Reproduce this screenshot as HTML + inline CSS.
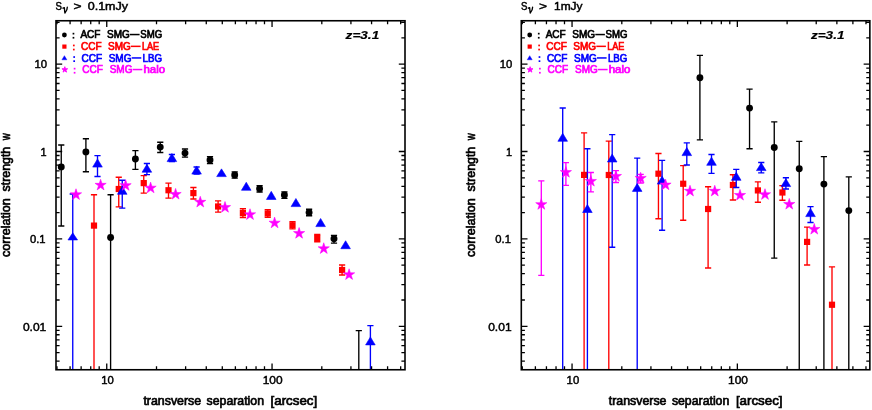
<!DOCTYPE html>
<html><head><meta charset="utf-8"><title>plot</title><style>html,body{margin:0;padding:0;background:#fff}svg{display:block;will-change:transform}</style></head><body>
<svg width="872" height="410" viewBox="0 0 872 410" font-family="'Liberation Sans', sans-serif">
<rect width="872" height="410" fill="#fff"/>
<path d="M61.25 145.00V226.00M58.15 145.00h6.2M58.15 226.00h6.2" stroke="#000" stroke-width="1.35" fill="none"/>
<circle cx="61.25" cy="166.90" r="3.45" fill="#000"/>
<path d="M85.90 138.75V171.70M82.80 138.75h6.2M82.80 171.70h6.2" stroke="#000" stroke-width="1.35" fill="none"/>
<circle cx="85.90" cy="151.90" r="3.45" fill="#000"/>
<path d="M110.60 194.75V369.75M107.50 194.75h6.2" stroke="#000" stroke-width="1.35" fill="none"/>
<circle cx="110.60" cy="237.50" r="3.45" fill="#000"/>
<path d="M135.40 150.60V169.40M132.30 150.60h6.2M132.30 169.40h6.2" stroke="#000" stroke-width="1.35" fill="none"/>
<circle cx="135.40" cy="159.00" r="3.45" fill="#000"/>
<path d="M160.25 142.25V152.50M157.15 142.25h6.2M157.15 152.50h6.2" stroke="#000" stroke-width="1.35" fill="none"/>
<circle cx="160.25" cy="147.10" r="3.45" fill="#000"/>
<path d="M185.00 149.00V157.10M181.90 149.00h6.2M181.90 157.10h6.2" stroke="#000" stroke-width="1.35" fill="none"/>
<circle cx="185.00" cy="153.10" r="3.45" fill="#000"/>
<path d="M210.00 156.60V163.50M206.90 156.60h6.2M206.90 163.50h6.2" stroke="#000" stroke-width="1.35" fill="none"/>
<circle cx="210.00" cy="160.00" r="3.45" fill="#000"/>
<path d="M234.70 171.90V178.10M231.60 171.90h6.2M231.60 178.10h6.2" stroke="#000" stroke-width="1.35" fill="none"/>
<circle cx="234.70" cy="175.00" r="3.45" fill="#000"/>
<path d="M259.60 185.60V192.00M256.50 185.60h6.2M256.50 192.00h6.2" stroke="#000" stroke-width="1.35" fill="none"/>
<circle cx="259.60" cy="188.75" r="3.45" fill="#000"/>
<path d="M284.40 191.80V198.30M281.30 191.80h6.2M281.30 198.30h6.2" stroke="#000" stroke-width="1.35" fill="none"/>
<circle cx="284.40" cy="195.00" r="3.45" fill="#000"/>
<path d="M309.10 209.20V215.70M306.00 209.20h6.2M306.00 215.70h6.2" stroke="#000" stroke-width="1.35" fill="none"/>
<circle cx="309.10" cy="212.40" r="3.45" fill="#000"/>
<path d="M334.00 235.40V243.10M330.90 235.40h6.2M330.90 243.10h6.2" stroke="#000" stroke-width="1.35" fill="none"/>
<circle cx="334.00" cy="238.75" r="3.45" fill="#000"/>
<path d="M358.80 330.60V369.75M355.70 330.60h6.2" stroke="#000" stroke-width="1.35" fill="none"/>
<path d="M94.00 194.75V369.75M90.90 194.75h6.2" stroke="#f00" stroke-width="1.35" fill="none"/>
<rect x="90.90" y="222.50" width="6.2" height="6.2" fill="#f00"/>
<path d="M118.75 177.25V206.90M115.65 177.25h6.2M115.65 206.90h6.2" stroke="#f00" stroke-width="1.35" fill="none"/>
<rect x="115.65" y="185.90" width="6.2" height="6.2" fill="#f00"/>
<path d="M143.75 175.60V193.10M140.65 175.60h6.2M140.65 193.10h6.2" stroke="#f00" stroke-width="1.35" fill="none"/>
<rect x="140.65" y="180.00" width="6.2" height="6.2" fill="#f00"/>
<path d="M168.50 183.10V198.10M165.40 183.10h6.2M165.40 198.10h6.2" stroke="#f00" stroke-width="1.35" fill="none"/>
<rect x="165.40" y="187.15" width="6.2" height="6.2" fill="#f00"/>
<path d="M193.40 187.50V199.00M190.30 187.50h6.2M190.30 199.00h6.2" stroke="#f00" stroke-width="1.35" fill="none"/>
<rect x="190.30" y="190.00" width="6.2" height="6.2" fill="#f00"/>
<path d="M218.10 200.90V212.10M215.00 200.90h6.2M215.00 212.10h6.2" stroke="#f00" stroke-width="1.35" fill="none"/>
<rect x="215.00" y="203.40" width="6.2" height="6.2" fill="#f00"/>
<path d="M242.90 208.75V217.50M239.80 208.75h6.2M239.80 217.50h6.2" stroke="#f00" stroke-width="1.35" fill="none"/>
<rect x="239.80" y="210.00" width="6.2" height="6.2" fill="#f00"/>
<path d="M267.75 209.60V217.20M264.65 209.60h6.2M264.65 217.20h6.2" stroke="#f00" stroke-width="1.35" fill="none"/>
<rect x="264.65" y="210.30" width="6.2" height="6.2" fill="#f00"/>
<path d="M292.50 221.60V228.90M289.40 221.60h6.2M289.40 228.90h6.2" stroke="#f00" stroke-width="1.35" fill="none"/>
<rect x="289.40" y="222.15" width="6.2" height="6.2" fill="#f00"/>
<path d="M317.25 234.50V241.70M314.15 234.50h6.2M314.15 241.70h6.2" stroke="#f00" stroke-width="1.35" fill="none"/>
<rect x="314.15" y="235.00" width="6.2" height="6.2" fill="#f00"/>
<path d="M342.10 265.00V275.00M339.00 265.00h6.2M339.00 275.00h6.2" stroke="#f00" stroke-width="1.35" fill="none"/>
<rect x="339.00" y="266.90" width="6.2" height="6.2" fill="#f00"/>
<path d="M72.75 194.00V369.75M69.65 194.00h6.2" stroke="#00f" stroke-width="1.35" fill="none"/>
<path d="M72.75 232.86L77.55 239.95H67.95Z" fill="#00f" stroke="#00f" stroke-width="0.6" stroke-linejoin="round"/>
<path d="M97.50 155.60V176.50M94.40 155.60h6.2M94.40 176.50h6.2" stroke="#00f" stroke-width="1.35" fill="none"/>
<path d="M97.50 158.96L102.30 167.10H92.70Z" fill="#00f" stroke="#00f" stroke-width="0.6" stroke-linejoin="round"/>
<path d="M122.25 180.25V208.10M119.15 180.25h6.2M119.15 208.10h6.2" stroke="#00f" stroke-width="1.35" fill="none"/>
<path d="M122.25 186.36L127.05 194.30H117.45Z" fill="#00f" stroke="#00f" stroke-width="0.6" stroke-linejoin="round"/>
<path d="M146.90 163.50V174.60M143.80 163.50h6.2M143.80 174.60h6.2" stroke="#00f" stroke-width="1.35" fill="none"/>
<path d="M146.90 164.36L151.70 172.20H142.10Z" fill="#00f" stroke="#00f" stroke-width="0.6" stroke-linejoin="round"/>
<path d="M171.90 154.50V161.60M168.80 154.50h6.2M168.80 161.60h6.2" stroke="#00f" stroke-width="1.35" fill="none"/>
<path d="M171.90 153.46L176.70 161.60H167.10Z" fill="#00f" stroke="#00f" stroke-width="0.6" stroke-linejoin="round"/>
<path d="M196.60 167.00V174.00M193.50 167.00h6.2M193.50 174.00h6.2" stroke="#00f" stroke-width="1.35" fill="none"/>
<path d="M196.60 165.96L201.40 174.10H191.80Z" fill="#00f" stroke="#00f" stroke-width="0.6" stroke-linejoin="round"/>
<path d="M221.50 168.86L226.30 176.60H216.70Z" fill="#00f" stroke="#00f" stroke-width="0.6" stroke-linejoin="round"/>
<path d="M246.25 182.26L251.05 190.30H241.45Z" fill="#00f" stroke="#00f" stroke-width="0.6" stroke-linejoin="round"/>
<path d="M271.25 191.36L276.05 199.45H266.45Z" fill="#00f" stroke="#00f" stroke-width="0.6" stroke-linejoin="round"/>
<path d="M295.90 198.46L300.70 206.60H291.10Z" fill="#00f" stroke="#00f" stroke-width="0.6" stroke-linejoin="round"/>
<path d="M320.60 218.46L325.40 226.60H315.80Z" fill="#00f" stroke="#00f" stroke-width="0.6" stroke-linejoin="round"/>
<path d="M345.60 240.76L350.40 248.70H340.80Z" fill="#00f" stroke="#00f" stroke-width="0.6" stroke-linejoin="round"/>
<path d="M370.40 325.60V369.75M367.30 325.60h6.2" stroke="#00f" stroke-width="1.35" fill="none"/>
<path d="M370.40 336.96L375.20 344.90H365.60Z" fill="#00f" stroke="#00f" stroke-width="0.6" stroke-linejoin="round"/>
<polygon points="76.00,188.75 77.32,192.83 81.61,192.83 78.14,195.35 79.47,199.42 76.00,196.90 72.53,199.42 73.86,195.35 70.39,192.83 74.68,192.83" fill="#f0f" stroke="#f0f" stroke-width="0.55" stroke-linejoin="miter"/>
<polygon points="100.60,179.25 101.92,183.33 106.21,183.33 102.74,185.85 104.07,189.92 100.60,187.40 97.13,189.92 98.46,185.85 94.99,183.33 99.28,183.33" fill="#f0f" stroke="#f0f" stroke-width="0.55" stroke-linejoin="miter"/>
<polygon points="125.60,179.60 126.92,183.68 131.21,183.68 127.74,186.20 129.07,190.27 125.60,187.75 122.13,190.27 123.46,186.20 119.99,183.68 124.28,183.68" fill="#f0f" stroke="#f0f" stroke-width="0.55" stroke-linejoin="miter"/>
<polygon points="150.60,182.10 151.92,186.18 156.21,186.18 152.74,188.70 154.07,192.77 150.60,190.25 147.13,192.77 148.46,188.70 144.99,186.18 149.28,186.18" fill="#f0f" stroke="#f0f" stroke-width="0.55" stroke-linejoin="miter"/>
<polygon points="175.60,188.40 176.92,192.48 181.21,192.48 177.74,195.00 179.07,199.07 175.60,196.55 172.13,199.07 173.46,195.00 169.99,192.48 174.28,192.48" fill="#f0f" stroke="#f0f" stroke-width="0.55" stroke-linejoin="miter"/>
<polygon points="200.25,196.25 201.57,200.33 205.86,200.33 202.39,202.85 203.72,206.92 200.25,204.40 196.78,206.92 198.11,202.85 194.64,200.33 198.93,200.33" fill="#f0f" stroke="#f0f" stroke-width="0.55" stroke-linejoin="miter"/>
<polygon points="225.00,201.50 226.32,205.58 230.61,205.58 227.14,208.10 228.47,212.17 225.00,209.65 221.53,212.17 222.86,208.10 219.39,205.58 223.68,205.58" fill="#f0f" stroke="#f0f" stroke-width="0.55" stroke-linejoin="miter"/>
<polygon points="250.00,208.75 251.32,212.83 255.61,212.83 252.14,215.35 253.47,219.42 250.00,216.90 246.53,219.42 247.86,215.35 244.39,212.83 248.68,212.83" fill="#f0f" stroke="#f0f" stroke-width="0.55" stroke-linejoin="miter"/>
<polygon points="274.60,217.10 275.92,221.18 280.21,221.18 276.74,223.70 278.07,227.77 274.60,225.25 271.13,227.77 272.46,223.70 268.99,221.18 273.28,221.18" fill="#f0f" stroke="#f0f" stroke-width="0.55" stroke-linejoin="miter"/>
<polygon points="299.10,227.50 300.42,231.58 304.71,231.58 301.24,234.10 302.57,238.17 299.10,235.65 295.63,238.17 296.96,234.10 293.49,231.58 297.78,231.58" fill="#f0f" stroke="#f0f" stroke-width="0.55" stroke-linejoin="miter"/>
<polygon points="323.75,242.75 325.07,246.83 329.36,246.83 325.89,249.35 327.22,253.42 323.75,250.90 320.28,253.42 321.61,249.35 318.14,246.83 322.43,246.83" fill="#f0f" stroke="#f0f" stroke-width="0.55" stroke-linejoin="miter"/>
<polygon points="349.10,268.75 350.42,272.83 354.71,272.83 351.24,275.35 352.57,279.42 349.10,276.90 345.63,279.42 346.96,275.35 343.49,272.83 347.78,272.83" fill="#f0f" stroke="#f0f" stroke-width="0.55" stroke-linejoin="miter"/>
<rect x="56.00" y="20.75" width="349.00" height="349.00" fill="none" stroke="#000" stroke-width="1.6"/>
<path d="M56.99 369.75v-3.6M56.99 20.75v3.6M70.08 369.75v-3.6M70.08 20.75v3.6M81.14 369.75v-3.6M81.14 20.75v3.6M90.73 369.75v-3.6M90.73 20.75v3.6M99.19 369.75v-3.6M99.19 20.75v3.6M106.75 369.75v-6.2M106.75 20.75v6.2M156.51 369.75v-3.6M156.51 20.75v3.6M185.62 369.75v-3.6M185.62 20.75v3.6M206.27 369.75v-3.6M206.27 20.75v3.6M222.29 369.75v-3.6M222.29 20.75v3.6M235.38 369.75v-3.6M235.38 20.75v3.6M246.44 369.75v-3.6M246.44 20.75v3.6M256.03 369.75v-3.6M256.03 20.75v3.6M264.49 369.75v-3.6M264.49 20.75v3.6M272.05 369.75v-6.2M272.05 20.75v6.2M321.81 369.75v-3.6M321.81 20.75v3.6M350.92 369.75v-3.6M350.92 20.75v3.6M371.57 369.75v-3.6M371.57 20.75v3.6M387.59 369.75v-3.6M387.59 20.75v3.6M400.68 369.75v-3.6M400.68 20.75v3.6M56.00 361.08h3.6M405.00 361.08h-3.6M56.00 352.61h3.6M405.00 352.61h-3.6M56.00 345.69h3.6M405.00 345.69h-3.6M56.00 339.84h3.6M405.00 339.84h-3.6M56.00 334.77h3.6M405.00 334.77h-3.6M56.00 330.30h3.6M405.00 330.30h-3.6M56.00 326.30h6.2M405.00 326.30h-6.2M56.00 299.99h3.6M405.00 299.99h-3.6M56.00 284.60h3.6M405.00 284.60h-3.6M56.00 273.68h3.6M405.00 273.68h-3.6M56.00 265.21h3.6M405.00 265.21h-3.6M56.00 258.29h3.6M405.00 258.29h-3.6M56.00 252.44h3.6M405.00 252.44h-3.6M56.00 247.37h3.6M405.00 247.37h-3.6M56.00 242.90h3.6M405.00 242.90h-3.6M56.00 238.90h6.2M405.00 238.90h-6.2M56.00 212.59h3.6M405.00 212.59h-3.6M56.00 197.20h3.6M405.00 197.20h-3.6M56.00 186.28h3.6M405.00 186.28h-3.6M56.00 177.81h3.6M405.00 177.81h-3.6M56.00 170.89h3.6M405.00 170.89h-3.6M56.00 165.04h3.6M405.00 165.04h-3.6M56.00 159.97h3.6M405.00 159.97h-3.6M56.00 155.50h3.6M405.00 155.50h-3.6M56.00 151.50h6.2M405.00 151.50h-6.2M56.00 125.19h3.6M405.00 125.19h-3.6M56.00 109.80h3.6M405.00 109.80h-3.6M56.00 98.88h3.6M405.00 98.88h-3.6M56.00 90.41h3.6M405.00 90.41h-3.6M56.00 83.49h3.6M405.00 83.49h-3.6M56.00 77.64h3.6M405.00 77.64h-3.6M56.00 72.57h3.6M405.00 72.57h-3.6M56.00 68.10h3.6M405.00 68.10h-3.6M56.00 64.10h6.2M405.00 64.10h-6.2M56.00 37.79h3.6M405.00 37.79h-3.6M56.00 22.40h3.6M405.00 22.40h-3.6" stroke="#000" stroke-width="1.3" fill="none"/>
<g transform="translate(9.70,257.0) rotate(-90)">
<text x="0.00" y="0.00" font-size="12" fill="#000" stroke="#000" stroke-width="0.65" text-anchor="start" textLength="58.80" lengthAdjust="spacingAndGlyphs" >correlation</text>
<text x="65.60" y="0.00" font-size="12" fill="#000" stroke="#000" stroke-width="0.65" text-anchor="start" textLength="44.60" lengthAdjust="spacingAndGlyphs" >strength</text>
<text x="116.80" y="0.00" font-size="12" fill="#000" stroke="#000" stroke-width="0.65" text-anchor="start" textLength="6.90" lengthAdjust="spacingAndGlyphs" >w</text>
</g>
<text x="55.60" y="9.60" font-size="11.6" fill="#000" stroke="#000" stroke-width="0.5" text-anchor="start" textLength="6.40" lengthAdjust="spacingAndGlyphs" >S</text>
<path d="M63.00 8.2L64.30 7.6L64.90 13.0Q67.40 10.2 67.30 7.2" fill="none" stroke="#000" stroke-width="1.35" stroke-linejoin="round" stroke-linecap="round"/>
<text x="73.60" y="9.60" font-size="11.6" fill="#000" stroke="#000" stroke-width="0.5" text-anchor="start" textLength="8.00" lengthAdjust="spacingAndGlyphs" >&gt;</text>
<text x="34.50" y="68.40" font-size="11" fill="#000" stroke="#000" stroke-width="0.45" text-anchor="start" textLength="12.60" lengthAdjust="spacingAndGlyphs" >10</text>
<text x="40.60" y="155.80" font-size="11" fill="#000" stroke="#000" stroke-width="0.45" text-anchor="start" textLength="6.10" lengthAdjust="spacingAndGlyphs" >1</text>
<text x="30.00" y="243.20" font-size="11" fill="#000" stroke="#000" stroke-width="0.45" text-anchor="start" textLength="15.60" lengthAdjust="spacingAndGlyphs" >0.1</text>
<text x="22.90" y="330.60" font-size="11" fill="#000" stroke="#000" stroke-width="0.45" text-anchor="start" textLength="23.40" lengthAdjust="spacingAndGlyphs" >0.01</text>
<text x="101.30" y="384.40" font-size="11" fill="#000" stroke="#000" stroke-width="0.45" text-anchor="start" textLength="12.60" lengthAdjust="spacingAndGlyphs" >10</text>
<text x="262.70" y="384.40" font-size="11" fill="#000" stroke="#000" stroke-width="0.45" text-anchor="start" textLength="19.90" lengthAdjust="spacingAndGlyphs" >100</text>
<text x="143.40" y="405.20" font-size="12" fill="#000" stroke="#000" stroke-width="0.65" text-anchor="start" textLength="57.80" lengthAdjust="spacingAndGlyphs" >transverse</text>
<text x="206.60" y="405.20" font-size="12" fill="#000" stroke="#000" stroke-width="0.65" text-anchor="start" textLength="57.40" lengthAdjust="spacingAndGlyphs" >separation</text>
<text x="270.60" y="405.20" font-size="12" fill="#000" stroke="#000" stroke-width="0.65" text-anchor="start" textLength="46.60" lengthAdjust="spacingAndGlyphs" >[arcsec]</text>
<text x="345.60" y="38.80" font-size="11.6" fill="#000" stroke="#000" stroke-width="0.2" text-anchor="start" textLength="33.60" lengthAdjust="spacingAndGlyphs" font-weight="bold" font-style="italic">z=3.1</text>
<text x="80.40" y="38.40" font-size="10" fill="#000" stroke="#000" stroke-width="0.68" text-anchor="start" >ACF</text>
<text x="107.00" y="38.40" font-size="10" fill="#000" stroke="#000" stroke-width="0.68" text-anchor="start" >SMG</text>
<text x="140.30" y="38.40" font-size="10" fill="#000" stroke="#000" stroke-width="0.68" text-anchor="start" textLength="21.90" lengthAdjust="spacingAndGlyphs" >SMG</text>
<rect x="130.00" y="33.80" width="9.60" height="1.5" fill="#000"/>
<rect x="72.60" y="32.80" width="1.7" height="1.7" fill="#000"/>
<rect x="72.60" y="36.90" width="1.7" height="1.7" fill="#000"/>
<text x="81.00" y="50.20" font-size="10" fill="#f00" stroke="#f00" stroke-width="0.68" text-anchor="start" >CCF</text>
<text x="108.00" y="50.20" font-size="10" fill="#f00" stroke="#f00" stroke-width="0.68" text-anchor="start" >SMG</text>
<text x="141.90" y="50.20" font-size="10" fill="#f00" stroke="#f00" stroke-width="0.68" text-anchor="start" textLength="17.20" lengthAdjust="spacingAndGlyphs" >LAE</text>
<rect x="131.00" y="45.60" width="9.60" height="1.5" fill="#f00"/>
<rect x="72.96" y="44.60" width="1.7" height="1.7" fill="#f00"/>
<rect x="72.96" y="48.70" width="1.7" height="1.7" fill="#f00"/>
<text x="81.60" y="61.80" font-size="10" fill="#00f" stroke="#00f" stroke-width="0.68" text-anchor="start" >CCF</text>
<text x="108.70" y="61.80" font-size="10" fill="#00f" stroke="#00f" stroke-width="0.68" text-anchor="start" >SMG</text>
<text x="142.60" y="61.80" font-size="10" fill="#00f" stroke="#00f" stroke-width="0.68" text-anchor="start" textLength="19.40" lengthAdjust="spacingAndGlyphs" >LBG</text>
<rect x="131.70" y="57.20" width="9.60" height="1.5" fill="#00f"/>
<rect x="73.32" y="56.20" width="1.7" height="1.7" fill="#00f"/>
<rect x="73.32" y="60.30" width="1.7" height="1.7" fill="#00f"/>
<text x="82.30" y="73.40" font-size="10" fill="#f0f" stroke="#f0f" stroke-width="0.68" text-anchor="start" >CCF</text>
<text x="109.70" y="73.40" font-size="10" fill="#f0f" stroke="#f0f" stroke-width="0.68" text-anchor="start" >SMG</text>
<text x="143.40" y="73.40" font-size="10" fill="#f0f" stroke="#f0f" stroke-width="0.68" text-anchor="start" textLength="21.70" lengthAdjust="spacingAndGlyphs" >halo</text>
<rect x="132.70" y="68.80" width="9.60" height="1.5" fill="#f0f"/>
<rect x="73.74" y="67.80" width="1.7" height="1.7" fill="#f0f"/>
<rect x="73.74" y="71.90" width="1.7" height="1.7" fill="#f0f"/>
<circle cx="64.40" cy="35.00" r="2.4" fill="#000"/>
<rect x="62.30" y="44.50" width="4.2" height="4.2" fill="#f00"/>
<path d="M64.40 55.64L66.90 59.80H61.90Z" fill="#00f" stroke="#00f" stroke-width="0.4" stroke-linejoin="round"/>
<polygon points="64.80,66.70 65.47,68.77 67.65,68.77 65.89,70.05 66.56,72.13 64.80,70.85 63.04,72.13 63.71,70.05 61.95,68.77 64.13,68.77" fill="#f0f" stroke="#f0f" stroke-width="0.9" stroke-linejoin="miter"/>
<text x="87.70" y="9.60" font-size="11.6" fill="#000" stroke="#000" stroke-width="0.5" text-anchor="start" textLength="40.40" lengthAdjust="spacingAndGlyphs" >0.1mJy</text>
<path d="M699.90 55.30V139.90M696.80 55.30h6.2M696.80 139.90h6.2" stroke="#000" stroke-width="1.35" fill="none"/>
<circle cx="699.90" cy="77.75" r="3.45" fill="#000"/>
<path d="M749.55 89.05V148.70M746.45 89.05h6.2M746.45 148.70h6.2" stroke="#000" stroke-width="1.35" fill="none"/>
<circle cx="749.55" cy="108.10" r="3.45" fill="#000"/>
<path d="M774.25 121.90V258.10M771.15 121.90h6.2M771.15 258.10h6.2" stroke="#000" stroke-width="1.35" fill="none"/>
<circle cx="774.25" cy="147.50" r="3.45" fill="#000"/>
<path d="M799.25 141.40V369.75M796.15 141.40h6.2" stroke="#000" stroke-width="1.35" fill="none"/>
<circle cx="799.25" cy="168.75" r="3.45" fill="#000"/>
<path d="M823.90 156.60V369.75M820.80 156.60h6.2" stroke="#000" stroke-width="1.35" fill="none"/>
<circle cx="823.90" cy="184.10" r="3.45" fill="#000"/>
<path d="M848.80 176.90V369.75M845.70 176.90h6.2" stroke="#000" stroke-width="1.35" fill="none"/>
<circle cx="848.80" cy="210.60" r="3.45" fill="#000"/>
<path d="M584.10 132.90V369.75M581.00 132.90h6.2" stroke="#f00" stroke-width="1.35" fill="none"/>
<rect x="581.00" y="171.80" width="6.2" height="6.2" fill="#f00"/>
<path d="M608.80 141.10V369.75M605.70 141.10h6.2" stroke="#f00" stroke-width="1.35" fill="none"/>
<rect x="605.70" y="171.90" width="6.2" height="6.2" fill="#f00"/>
<path d="M658.45 153.50V218.70M655.35 153.50h6.2M655.35 218.70h6.2" stroke="#f00" stroke-width="1.35" fill="none"/>
<rect x="655.35" y="170.60" width="6.2" height="6.2" fill="#f00"/>
<path d="M683.20 165.60V220.25M680.10 165.60h6.2M680.10 220.25h6.2" stroke="#f00" stroke-width="1.35" fill="none"/>
<rect x="680.10" y="180.65" width="6.2" height="6.2" fill="#f00"/>
<path d="M708.10 186.70V268.00M705.00 186.70h6.2M705.00 268.00h6.2" stroke="#f00" stroke-width="1.35" fill="none"/>
<rect x="705.00" y="205.90" width="6.2" height="6.2" fill="#f00"/>
<path d="M732.90 174.75V200.00M729.80 174.75h6.2M729.80 200.00h6.2" stroke="#f00" stroke-width="1.35" fill="none"/>
<rect x="729.80" y="181.90" width="6.2" height="6.2" fill="#f00"/>
<path d="M757.90 181.90V202.25M754.80 181.90h6.2M754.80 202.25h6.2" stroke="#f00" stroke-width="1.35" fill="none"/>
<rect x="754.80" y="187.30" width="6.2" height="6.2" fill="#f00"/>
<path d="M782.40 185.60V200.25M779.30 185.60h6.2M779.30 200.25h6.2" stroke="#f00" stroke-width="1.35" fill="none"/>
<rect x="779.30" y="189.40" width="6.2" height="6.2" fill="#f00"/>
<path d="M807.10 227.10V265.00M804.00 227.10h6.2M804.00 265.00h6.2" stroke="#f00" stroke-width="1.35" fill="none"/>
<rect x="804.00" y="238.80" width="6.2" height="6.2" fill="#f00"/>
<path d="M832.00 266.90V369.75M828.90 266.90h6.2" stroke="#f00" stroke-width="1.35" fill="none"/>
<rect x="828.90" y="301.65" width="6.2" height="6.2" fill="#f00"/>
<path d="M562.70 108.00V369.75M559.60 108.00h6.2" stroke="#00f" stroke-width="1.35" fill="none"/>
<path d="M562.70 133.26L567.50 141.30H557.90Z" fill="#00f" stroke="#00f" stroke-width="0.6" stroke-linejoin="round"/>
<path d="M587.40 148.70V369.75M584.30 148.70h6.2" stroke="#00f" stroke-width="1.35" fill="none"/>
<path d="M587.40 204.56L592.20 212.50H582.60Z" fill="#00f" stroke="#00f" stroke-width="0.6" stroke-linejoin="round"/>
<path d="M612.20 134.60V247.25M609.10 134.60h6.2M609.10 247.25h6.2" stroke="#00f" stroke-width="1.35" fill="none"/>
<path d="M612.20 154.06L617.00 162.00H607.40Z" fill="#00f" stroke="#00f" stroke-width="0.6" stroke-linejoin="round"/>
<path d="M637.20 158.10V369.75M634.10 158.10h6.2" stroke="#00f" stroke-width="1.35" fill="none"/>
<path d="M637.20 183.56L642.00 191.40H632.40Z" fill="#00f" stroke="#00f" stroke-width="0.6" stroke-linejoin="round"/>
<path d="M662.10 160.30V230.20M659.00 160.30h6.2M659.00 230.20h6.2" stroke="#00f" stroke-width="1.35" fill="none"/>
<path d="M662.10 176.16L666.90 184.10H657.30Z" fill="#00f" stroke="#00f" stroke-width="0.6" stroke-linejoin="round"/>
<path d="M686.80 142.90V165.00M683.70 142.90h6.2M683.70 165.00h6.2" stroke="#00f" stroke-width="1.35" fill="none"/>
<path d="M686.80 147.56L691.60 155.60H682.00Z" fill="#00f" stroke="#00f" stroke-width="0.6" stroke-linejoin="round"/>
<path d="M711.50 154.50V173.40M708.40 154.50h6.2M708.40 173.40h6.2" stroke="#00f" stroke-width="1.35" fill="none"/>
<path d="M711.50 157.26L716.30 165.30H706.70Z" fill="#00f" stroke="#00f" stroke-width="0.6" stroke-linejoin="round"/>
<path d="M736.25 169.40V187.50M733.15 169.40h6.2M733.15 187.50h6.2" stroke="#00f" stroke-width="1.35" fill="none"/>
<path d="M736.25 172.26L741.05 180.30H731.45Z" fill="#00f" stroke="#00f" stroke-width="0.6" stroke-linejoin="round"/>
<path d="M761.25 162.50V172.90M758.15 162.50h6.2M758.15 172.90h6.2" stroke="#00f" stroke-width="1.35" fill="none"/>
<path d="M761.25 162.86L766.05 170.60H756.45Z" fill="#00f" stroke="#00f" stroke-width="0.6" stroke-linejoin="round"/>
<path d="M785.90 177.75V189.00M782.80 177.75h6.2M782.80 189.00h6.2" stroke="#00f" stroke-width="1.35" fill="none"/>
<path d="M785.90 178.66L790.70 186.60H781.10Z" fill="#00f" stroke="#00f" stroke-width="0.6" stroke-linejoin="round"/>
<path d="M810.50 206.60V222.50M807.40 206.60h6.2M807.40 222.50h6.2" stroke="#00f" stroke-width="1.35" fill="none"/>
<path d="M810.50 208.46L815.30 216.60H805.70Z" fill="#00f" stroke="#00f" stroke-width="0.6" stroke-linejoin="round"/>
<path d="M541.30 180.80V275.40M538.20 180.80h6.2M538.20 275.40h6.2" stroke="#f0f" stroke-width="1.35" fill="none"/>
<polygon points="541.30,198.60 542.62,202.68 546.91,202.68 543.44,205.20 544.77,209.27 541.30,206.75 537.83,209.27 539.16,205.20 535.69,202.68 539.98,202.68" fill="#f0f" stroke="#f0f" stroke-width="0.55" stroke-linejoin="miter"/>
<path d="M565.90 162.60V185.30M562.80 162.60h6.2M562.80 185.30h6.2" stroke="#f0f" stroke-width="1.35" fill="none"/>
<polygon points="565.90,166.50 567.22,170.58 571.51,170.58 568.04,173.10 569.37,177.17 565.90,174.65 562.43,177.17 563.76,173.10 560.29,170.58 564.58,170.58" fill="#f0f" stroke="#f0f" stroke-width="0.55" stroke-linejoin="miter"/>
<path d="M590.85 172.50V191.80M587.75 172.50h6.2M587.75 191.80h6.2" stroke="#f0f" stroke-width="1.35" fill="none"/>
<polygon points="590.85,175.40 592.17,179.48 596.46,179.48 592.99,182.00 594.32,186.07 590.85,183.55 587.38,186.07 588.71,182.00 585.24,179.48 589.53,179.48" fill="#f0f" stroke="#f0f" stroke-width="0.55" stroke-linejoin="miter"/>
<path d="M615.90 170.60V182.50M612.80 170.60h6.2M612.80 182.50h6.2" stroke="#f0f" stroke-width="1.35" fill="none"/>
<polygon points="615.90,170.40 617.22,174.48 621.51,174.48 618.04,177.00 619.37,181.07 615.90,178.55 612.43,181.07 613.76,177.00 610.29,174.48 614.58,174.48" fill="#f0f" stroke="#f0f" stroke-width="0.55" stroke-linejoin="miter"/>
<path d="M640.65 174.30V183.00M637.55 174.30h6.2M637.55 183.00h6.2" stroke="#f0f" stroke-width="1.35" fill="none"/>
<polygon points="640.65,172.30 641.97,176.38 646.26,176.38 642.79,178.90 644.12,182.97 640.65,180.45 637.18,182.97 638.51,178.90 635.04,176.38 639.33,176.38" fill="#f0f" stroke="#f0f" stroke-width="0.55" stroke-linejoin="miter"/>
<polygon points="665.50,179.00 666.82,183.08 671.11,183.08 667.64,185.60 668.97,189.67 665.50,187.15 662.03,189.67 663.36,185.60 659.89,183.08 664.18,183.08" fill="#f0f" stroke="#f0f" stroke-width="0.55" stroke-linejoin="miter"/>
<polygon points="690.00,185.25 691.32,189.33 695.61,189.33 692.14,191.85 693.47,195.92 690.00,193.40 686.53,195.92 687.86,191.85 684.39,189.33 688.68,189.33" fill="#f0f" stroke="#f0f" stroke-width="0.55" stroke-linejoin="miter"/>
<polygon points="714.75,185.25 716.07,189.33 720.36,189.33 716.89,191.85 718.22,195.92 714.75,193.40 711.28,195.92 712.61,191.85 709.14,189.33 713.43,189.33" fill="#f0f" stroke="#f0f" stroke-width="0.55" stroke-linejoin="miter"/>
<polygon points="740.00,189.40 741.32,193.48 745.61,193.48 742.14,196.00 743.47,200.07 740.00,197.55 736.53,200.07 737.86,196.00 734.39,193.48 738.68,193.48" fill="#f0f" stroke="#f0f" stroke-width="0.55" stroke-linejoin="miter"/>
<polygon points="765.00,188.70 766.32,192.78 770.61,192.78 767.14,195.30 768.47,199.37 765.00,196.85 761.53,199.37 762.86,195.30 759.39,192.78 763.68,192.78" fill="#f0f" stroke="#f0f" stroke-width="0.55" stroke-linejoin="miter"/>
<polygon points="789.25,198.40 790.57,202.48 794.86,202.48 791.39,205.00 792.72,209.07 789.25,206.55 785.78,209.07 787.11,205.00 783.64,202.48 787.93,202.48" fill="#f0f" stroke="#f0f" stroke-width="0.55" stroke-linejoin="miter"/>
<polygon points="814.25,223.40 815.57,227.48 819.86,227.48 816.39,230.00 817.72,234.07 814.25,231.55 810.78,234.07 812.11,230.00 808.64,227.48 812.93,227.48" fill="#f0f" stroke="#f0f" stroke-width="0.55" stroke-linejoin="miter"/>
<rect x="521.30" y="20.75" width="348.55" height="349.00" fill="none" stroke="#000" stroke-width="1.6"/>
<path d="M522.29 369.75v-3.6M522.29 20.75v3.6M535.38 369.75v-3.6M535.38 20.75v3.6M546.44 369.75v-3.6M546.44 20.75v3.6M556.03 369.75v-3.6M556.03 20.75v3.6M564.49 369.75v-3.6M564.49 20.75v3.6M572.05 369.75v-6.2M572.05 20.75v6.2M621.81 369.75v-3.6M621.81 20.75v3.6M650.92 369.75v-3.6M650.92 20.75v3.6M671.57 369.75v-3.6M671.57 20.75v3.6M687.59 369.75v-3.6M687.59 20.75v3.6M700.68 369.75v-3.6M700.68 20.75v3.6M711.74 369.75v-3.6M711.74 20.75v3.6M721.33 369.75v-3.6M721.33 20.75v3.6M729.79 369.75v-3.6M729.79 20.75v3.6M737.35 369.75v-6.2M737.35 20.75v6.2M787.11 369.75v-3.6M787.11 20.75v3.6M816.22 369.75v-3.6M816.22 20.75v3.6M836.87 369.75v-3.6M836.87 20.75v3.6M852.89 369.75v-3.6M852.89 20.75v3.6M865.98 369.75v-3.6M865.98 20.75v3.6M521.30 361.08h3.6M869.85 361.08h-3.6M521.30 352.61h3.6M869.85 352.61h-3.6M521.30 345.69h3.6M869.85 345.69h-3.6M521.30 339.84h3.6M869.85 339.84h-3.6M521.30 334.77h3.6M869.85 334.77h-3.6M521.30 330.30h3.6M869.85 330.30h-3.6M521.30 326.30h6.2M869.85 326.30h-6.2M521.30 299.99h3.6M869.85 299.99h-3.6M521.30 284.60h3.6M869.85 284.60h-3.6M521.30 273.68h3.6M869.85 273.68h-3.6M521.30 265.21h3.6M869.85 265.21h-3.6M521.30 258.29h3.6M869.85 258.29h-3.6M521.30 252.44h3.6M869.85 252.44h-3.6M521.30 247.37h3.6M869.85 247.37h-3.6M521.30 242.90h3.6M869.85 242.90h-3.6M521.30 238.90h6.2M869.85 238.90h-6.2M521.30 212.59h3.6M869.85 212.59h-3.6M521.30 197.20h3.6M869.85 197.20h-3.6M521.30 186.28h3.6M869.85 186.28h-3.6M521.30 177.81h3.6M869.85 177.81h-3.6M521.30 170.89h3.6M869.85 170.89h-3.6M521.30 165.04h3.6M869.85 165.04h-3.6M521.30 159.97h3.6M869.85 159.97h-3.6M521.30 155.50h3.6M869.85 155.50h-3.6M521.30 151.50h6.2M869.85 151.50h-6.2M521.30 125.19h3.6M869.85 125.19h-3.6M521.30 109.80h3.6M869.85 109.80h-3.6M521.30 98.88h3.6M869.85 98.88h-3.6M521.30 90.41h3.6M869.85 90.41h-3.6M521.30 83.49h3.6M869.85 83.49h-3.6M521.30 77.64h3.6M869.85 77.64h-3.6M521.30 72.57h3.6M869.85 72.57h-3.6M521.30 68.10h3.6M869.85 68.10h-3.6M521.30 64.10h6.2M869.85 64.10h-6.2M521.30 37.79h3.6M869.85 37.79h-3.6M521.30 22.40h3.6M869.85 22.40h-3.6" stroke="#000" stroke-width="1.3" fill="none"/>
<g transform="translate(475.00,257.0) rotate(-90)">
<text x="0.00" y="0.00" font-size="12" fill="#000" stroke="#000" stroke-width="0.65" text-anchor="start" textLength="58.80" lengthAdjust="spacingAndGlyphs" >correlation</text>
<text x="65.60" y="0.00" font-size="12" fill="#000" stroke="#000" stroke-width="0.65" text-anchor="start" textLength="44.60" lengthAdjust="spacingAndGlyphs" >strength</text>
<text x="116.80" y="0.00" font-size="12" fill="#000" stroke="#000" stroke-width="0.65" text-anchor="start" textLength="6.90" lengthAdjust="spacingAndGlyphs" >w</text>
</g>
<text x="520.90" y="9.60" font-size="11.6" fill="#000" stroke="#000" stroke-width="0.5" text-anchor="start" textLength="6.40" lengthAdjust="spacingAndGlyphs" >S</text>
<path d="M528.30 8.2L529.60 7.6L530.20 13.0Q532.70 10.2 532.60 7.2" fill="none" stroke="#000" stroke-width="1.35" stroke-linejoin="round" stroke-linecap="round"/>
<text x="538.90" y="9.60" font-size="11.6" fill="#000" stroke="#000" stroke-width="0.5" text-anchor="start" textLength="8.00" lengthAdjust="spacingAndGlyphs" >&gt;</text>
<text x="499.80" y="68.40" font-size="11" fill="#000" stroke="#000" stroke-width="0.45" text-anchor="start" textLength="12.60" lengthAdjust="spacingAndGlyphs" >10</text>
<text x="505.90" y="155.80" font-size="11" fill="#000" stroke="#000" stroke-width="0.45" text-anchor="start" textLength="6.10" lengthAdjust="spacingAndGlyphs" >1</text>
<text x="495.30" y="243.20" font-size="11" fill="#000" stroke="#000" stroke-width="0.45" text-anchor="start" textLength="15.60" lengthAdjust="spacingAndGlyphs" >0.1</text>
<text x="488.20" y="330.60" font-size="11" fill="#000" stroke="#000" stroke-width="0.45" text-anchor="start" textLength="23.40" lengthAdjust="spacingAndGlyphs" >0.01</text>
<text x="566.60" y="384.40" font-size="11" fill="#000" stroke="#000" stroke-width="0.45" text-anchor="start" textLength="12.60" lengthAdjust="spacingAndGlyphs" >10</text>
<text x="728.00" y="384.40" font-size="11" fill="#000" stroke="#000" stroke-width="0.45" text-anchor="start" textLength="19.90" lengthAdjust="spacingAndGlyphs" >100</text>
<text x="608.70" y="405.20" font-size="12" fill="#000" stroke="#000" stroke-width="0.65" text-anchor="start" textLength="57.80" lengthAdjust="spacingAndGlyphs" >transverse</text>
<text x="671.90" y="405.20" font-size="12" fill="#000" stroke="#000" stroke-width="0.65" text-anchor="start" textLength="57.40" lengthAdjust="spacingAndGlyphs" >separation</text>
<text x="735.90" y="405.20" font-size="12" fill="#000" stroke="#000" stroke-width="0.65" text-anchor="start" textLength="46.60" lengthAdjust="spacingAndGlyphs" >[arcsec]</text>
<text x="810.90" y="38.80" font-size="11.6" fill="#000" stroke="#000" stroke-width="0.2" text-anchor="start" textLength="33.60" lengthAdjust="spacingAndGlyphs" font-weight="bold" font-style="italic">z=3.1</text>
<text x="545.70" y="38.40" font-size="10" fill="#000" stroke="#000" stroke-width="0.68" text-anchor="start" >ACF</text>
<text x="572.30" y="38.40" font-size="10" fill="#000" stroke="#000" stroke-width="0.68" text-anchor="start" >SMG</text>
<text x="605.60" y="38.40" font-size="10" fill="#000" stroke="#000" stroke-width="0.68" text-anchor="start" textLength="21.90" lengthAdjust="spacingAndGlyphs" >SMG</text>
<rect x="595.30" y="33.80" width="9.60" height="1.5" fill="#000"/>
<rect x="537.90" y="32.80" width="1.7" height="1.7" fill="#000"/>
<rect x="537.90" y="36.90" width="1.7" height="1.7" fill="#000"/>
<text x="546.30" y="50.20" font-size="10" fill="#f00" stroke="#f00" stroke-width="0.68" text-anchor="start" >CCF</text>
<text x="573.30" y="50.20" font-size="10" fill="#f00" stroke="#f00" stroke-width="0.68" text-anchor="start" >SMG</text>
<text x="607.20" y="50.20" font-size="10" fill="#f00" stroke="#f00" stroke-width="0.68" text-anchor="start" textLength="17.20" lengthAdjust="spacingAndGlyphs" >LAE</text>
<rect x="596.30" y="45.60" width="9.60" height="1.5" fill="#f00"/>
<rect x="538.26" y="44.60" width="1.7" height="1.7" fill="#f00"/>
<rect x="538.26" y="48.70" width="1.7" height="1.7" fill="#f00"/>
<text x="546.90" y="61.80" font-size="10" fill="#00f" stroke="#00f" stroke-width="0.68" text-anchor="start" >CCF</text>
<text x="574.00" y="61.80" font-size="10" fill="#00f" stroke="#00f" stroke-width="0.68" text-anchor="start" >SMG</text>
<text x="607.90" y="61.80" font-size="10" fill="#00f" stroke="#00f" stroke-width="0.68" text-anchor="start" textLength="19.40" lengthAdjust="spacingAndGlyphs" >LBG</text>
<rect x="597.00" y="57.20" width="9.60" height="1.5" fill="#00f"/>
<rect x="538.62" y="56.20" width="1.7" height="1.7" fill="#00f"/>
<rect x="538.62" y="60.30" width="1.7" height="1.7" fill="#00f"/>
<text x="547.60" y="73.40" font-size="10" fill="#f0f" stroke="#f0f" stroke-width="0.68" text-anchor="start" >CCF</text>
<text x="575.00" y="73.40" font-size="10" fill="#f0f" stroke="#f0f" stroke-width="0.68" text-anchor="start" >SMG</text>
<text x="608.70" y="73.40" font-size="10" fill="#f0f" stroke="#f0f" stroke-width="0.68" text-anchor="start" textLength="21.70" lengthAdjust="spacingAndGlyphs" >halo</text>
<rect x="598.00" y="68.80" width="9.60" height="1.5" fill="#f0f"/>
<rect x="539.04" y="67.80" width="1.7" height="1.7" fill="#f0f"/>
<rect x="539.04" y="71.90" width="1.7" height="1.7" fill="#f0f"/>
<circle cx="529.70" cy="35.00" r="2.4" fill="#000"/>
<rect x="527.60" y="44.50" width="4.2" height="4.2" fill="#f00"/>
<path d="M529.70 55.64L532.20 59.80H527.20Z" fill="#00f" stroke="#00f" stroke-width="0.4" stroke-linejoin="round"/>
<polygon points="530.10,66.70 530.77,68.77 532.95,68.77 531.19,70.05 531.86,72.13 530.10,70.85 528.34,72.13 529.01,70.05 527.25,68.77 529.43,68.77" fill="#f0f" stroke="#f0f" stroke-width="0.9" stroke-linejoin="miter"/>
<text x="554.00" y="9.60" font-size="11.6" fill="#000" stroke="#000" stroke-width="0.5" text-anchor="start" textLength="28.50" lengthAdjust="spacingAndGlyphs" >1mJy</text>
</svg>
</body></html>
